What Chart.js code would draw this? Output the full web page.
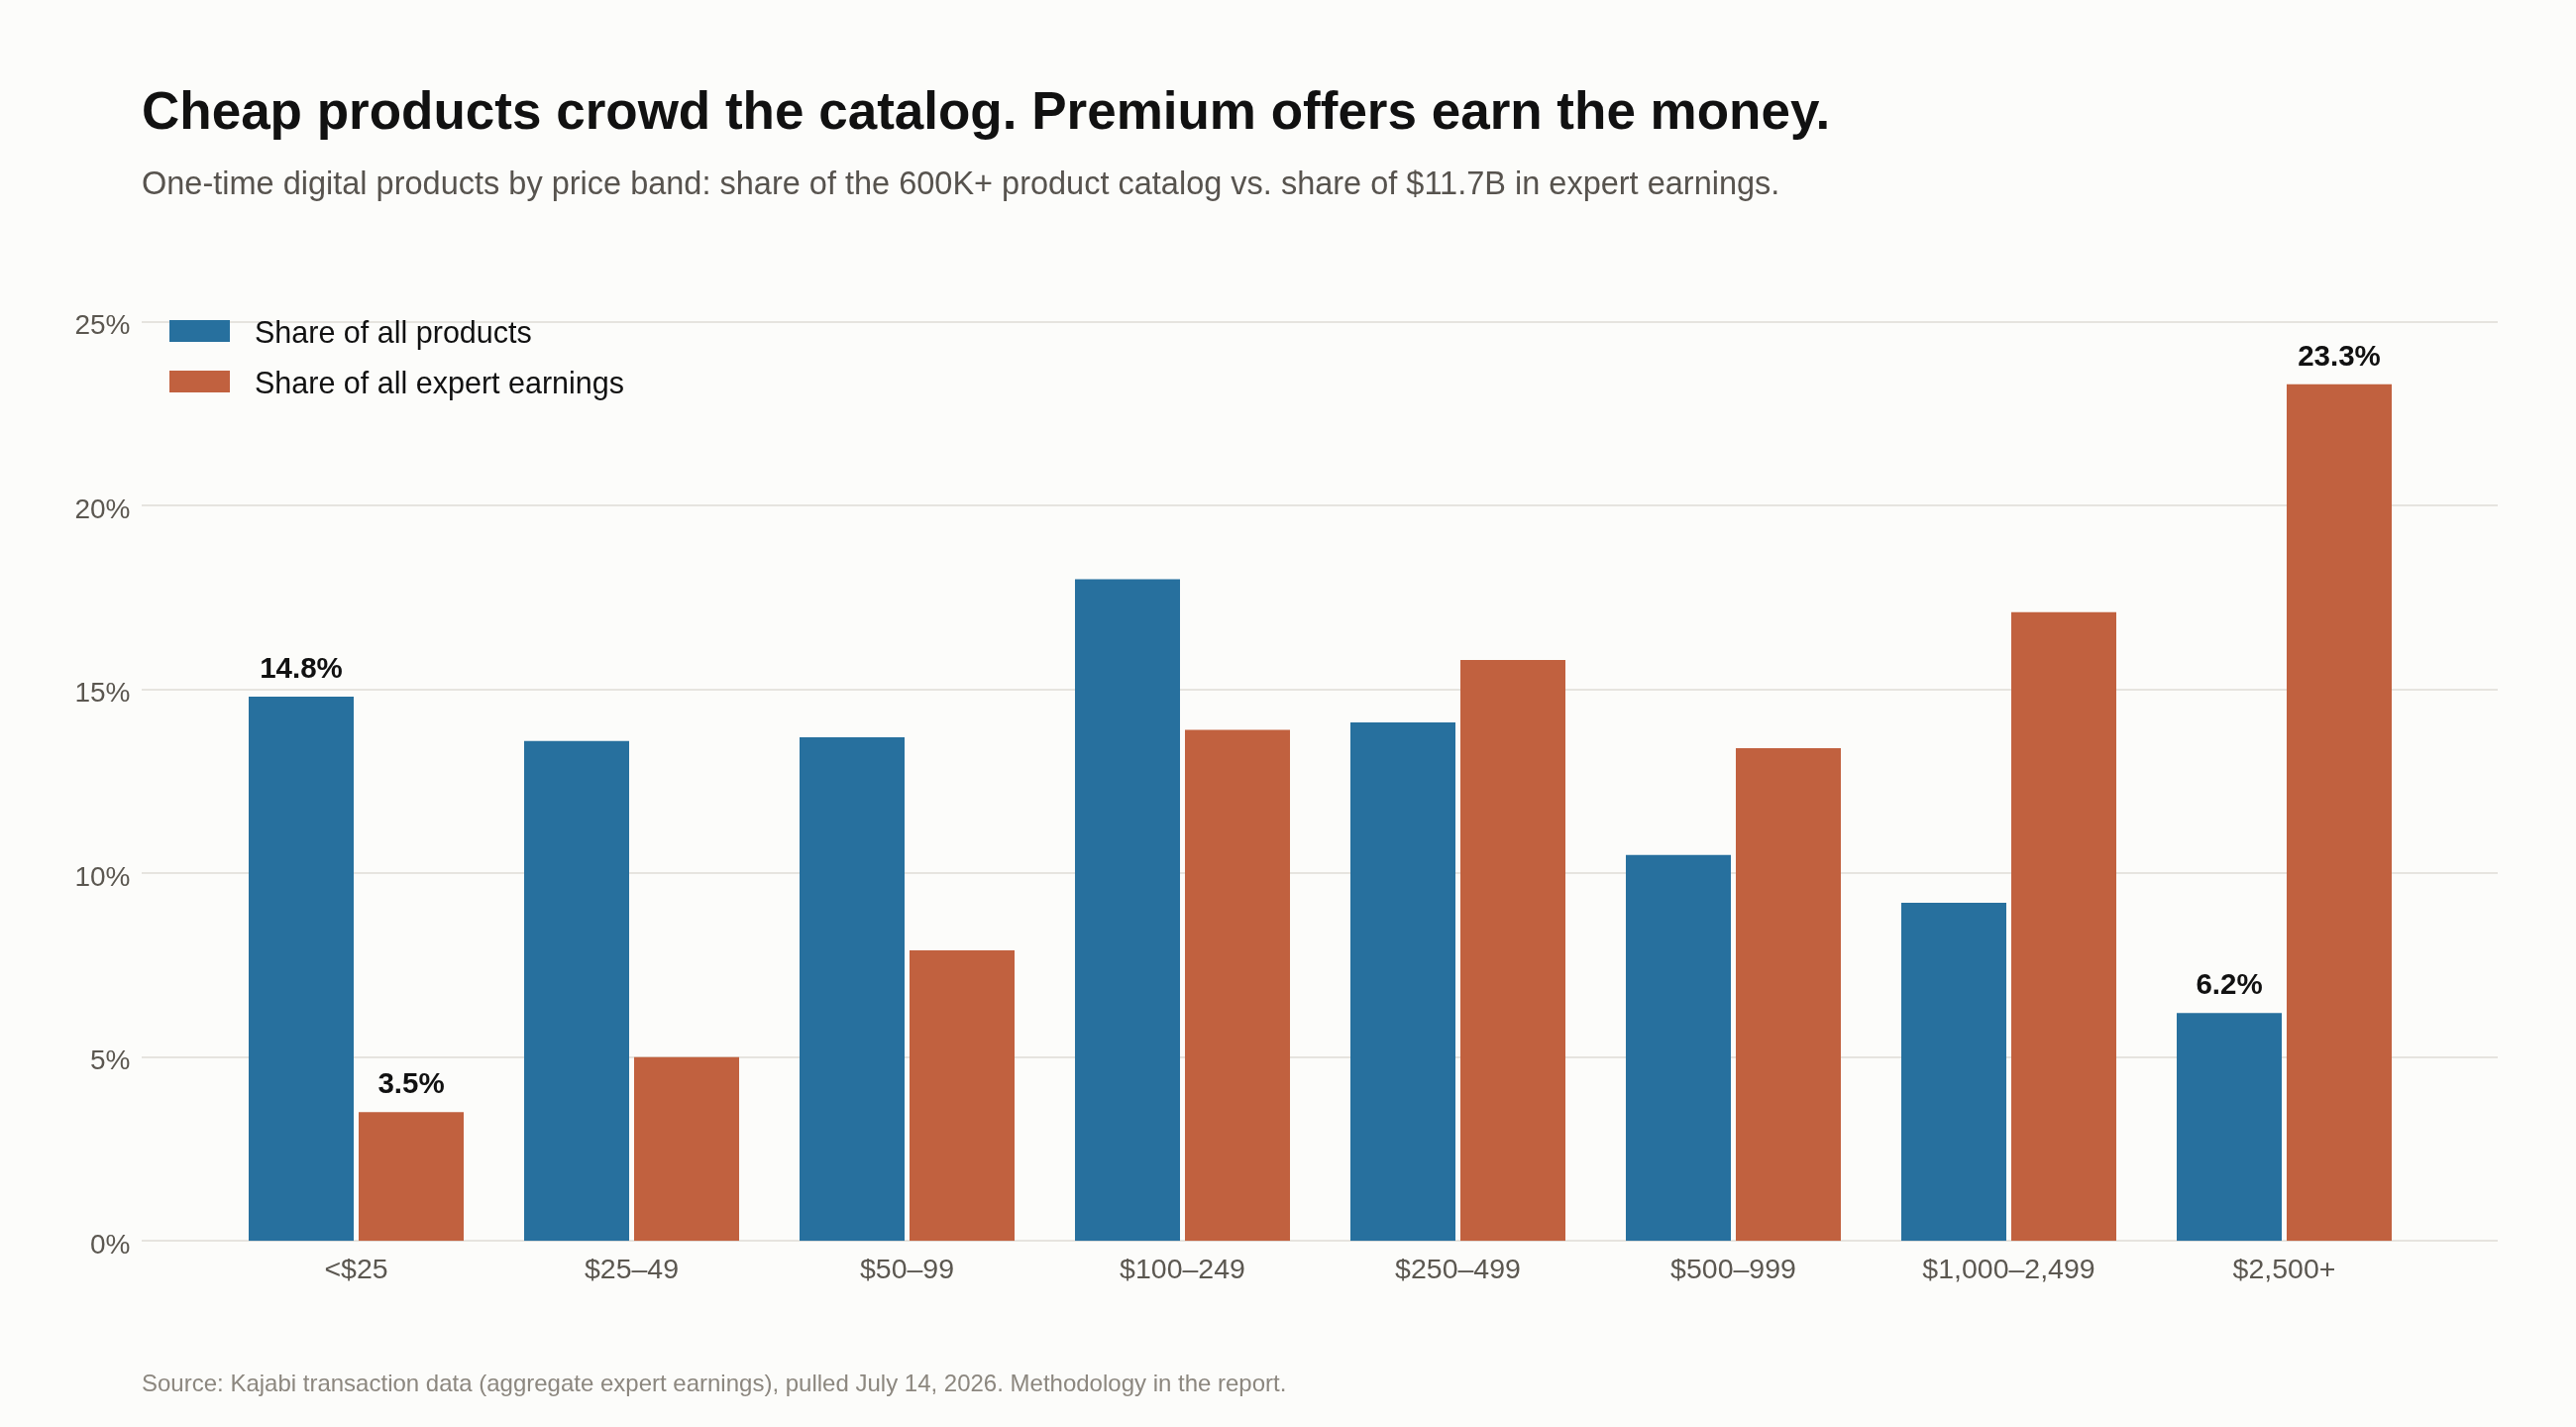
<!DOCTYPE html>
<html><head><meta charset="utf-8">
<script src="https://cdn.jsdelivr.net/npm/chart.js@4.4.1/dist/chart.umd.min.js"></script>
<style>
html,body{margin:0;padding:0;background:#fcfcfa;}
#wrap{position:relative;width:2600px;height:1440px;overflow:hidden;font-family:"Liberation Sans",Arial,Helvetica,sans-serif;}
#wrap canvas{position:absolute;left:0;top:0;}
.t{position:absolute;white-space:nowrap;}
.sw{position:absolute;}
</style></head><body>
<div id="wrap">
<canvas id="c" width="2600" height="1440"></canvas>
<div class="t" style="left:143px;top:85px;font-size:53px;line-height:53px;font-weight:700;color:#111;">Cheap products crowd the catalog. Premium offers earn the money.</div>
<div class="t" style="left:143px;top:169px;font-size:32.5px;line-height:32.5px;color:#57534e;">One-time digital products by price band: share of the 600K+ product catalog vs. share of $11.7B in expert earnings.</div>
<div class="sw" style="left:171px;top:323px;width:61px;height:22px;background:#27709e;"></div>
<div class="t" style="left:257px;top:319.5px;font-size:30.5px;line-height:30.5px;color:#111;">Share of all products</div>
<div class="sw" style="left:171px;top:374px;width:61px;height:22px;background:#c1613f;"></div>
<div class="t" style="left:257px;top:370.5px;font-size:30.5px;line-height:30.5px;color:#111;">Share of all expert earnings</div>
<div class="t" style="left:143px;top:1384px;font-size:24px;line-height:24px;color:#8c877f;">Source: Kajabi transaction data (aggregate expert earnings), pulled July 14, 2026. Methodology in the report.</div>
</div>
<script>
const categories = ['<$25','$25–49','$50–99','$100–249','$250–499','$500–999','$1,000–2,499','$2,500+'];
const productShare = [14.8,13.6,13.7,18.0,14.1,10.5,9.2,6.2];
const earningsShare = [3.5,5.0,7.9,13.9,15.8,13.4,17.1,23.3];
const seriesNames = ['Share of all products','Share of all expert earnings'];
const yTickValues = [0,5,10,15,20,25];
const labelledIndices = [0,7];

const BLUE = '#27709e', ORANGE = '#c1613f';
const FONT = '"Liberation Sans", Arial, Helvetica, sans-serif';

const gridPlugin = {
  id:'fullGrid',
  beforeDatasetsDraw(chart){
    const y = chart.scales.y, ctx = chart.ctx;
    ctx.save();
    ctx.strokeStyle = '#e6e4df';
    ctx.lineWidth = 2;
    y.ticks.forEach(t=>{
      const py = Math.round(y.getPixelForValue(t.value));
      ctx.beginPath(); ctx.moveTo(143, py); ctx.lineTo(2521, py); ctx.stroke();
    });
    ctx.restore();
  }
};
const labelPlugin = {
  id:'valueLabels',
  afterDatasetsDraw(chart){
    const ctx = chart.ctx;
    ctx.save();
    ctx.font = 'bold 29.5px ' + FONT;
    ctx.fillStyle = '#111';
    ctx.textAlign = 'center';
    ctx.textBaseline = 'alphabetic';
    chart.data.datasets.forEach((ds,di)=>{
      const meta = chart.getDatasetMeta(di);
      labelledIndices.forEach(i=>{
        const el = meta.data[i];
        ctx.fillText(ds.data[i].toFixed(1)+'%', el.x, el.y - 19);
      });
    });
    ctx.restore();
  }
};

new Chart(document.getElementById('c'), {
  type:'bar',
  data:{
    labels: categories,
    datasets:[
      {label:seriesNames[0], data:productShare, backgroundColor:BLUE, borderWidth:0, categoryPercentage:0.7986, barPercentage:0.955},
      {label:seriesNames[1], data:earningsShare, backgroundColor:ORANGE, borderWidth:0, categoryPercentage:0.7986, barPercentage:0.955}
    ]
  },
  options:{
    responsive:false,
    animation:false,
    devicePixelRatio:1,
    layout:{padding:{left:0,right:155.5,top:324.7,bottom:0}},
    plugins:{legend:{display:false}, title:{display:false}, tooltip:{enabled:false}},
    scales:{
      x:{
        grid:{display:false, drawTicks:false},
        border:{display:false},
        ticks:{font:{size:28.5, family:FONT}, color:'#5b5750', padding:12.5, maxRotation:0, autoSkip:false},
        afterFit(s){ s.height = 187.8; }
      },
      y:{
        min:0, max:25,
        afterBuildTicks(s){ s.ticks = yTickValues.map(v=>({value:v})); },
        grid:{display:false, drawTicks:false},
        border:{display:false},
        ticks:{font:{size:28, family:FONT}, color:'#5b5750', padding:89, labelOffset:5, callback:v=>v+'%'},
        afterFit(s){ s.width = 220.5; }
      }
    }
  },
  plugins:[gridPlugin, labelPlugin]
});
</script>
</body></html>
